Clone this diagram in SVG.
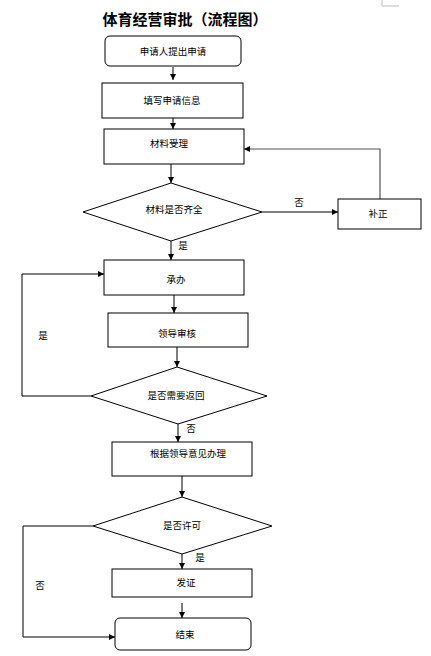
<svg xmlns="http://www.w3.org/2000/svg" width="431" height="656" viewBox="0 0 431 656">
<defs>
<marker id="ah" viewBox="0 0 10 10" refX="10" refY="5" markerWidth="6" markerHeight="6" markerUnits="userSpaceOnUse" orient="auto">
<path d="M0,0 L10,5 L0,10 z" fill="#000"/>
</marker>
<style>
.box{fill:#fff;stroke:#000;stroke-width:1}
.t{font-family:"Noto Sans CJK SC","Liberation Sans",sans-serif;font-size:9.5px;fill:#000;text-anchor:middle;dominant-baseline:central}
.e{fill:none;stroke:#000;stroke-width:1}
.g{fill:none;stroke:#555;stroke-width:1.2}
.lbl{font-family:"Noto Sans CJK SC","Liberation Sans",sans-serif;font-size:9.5px;fill:#000;text-anchor:middle;dominant-baseline:central}
</style>
</defs>
<rect width="431" height="656" fill="#fff"/>
<path d="M382,0 V6 H399" fill="none" stroke="#bbb" stroke-width="1"/>
<text x="185" y="18" font-family="Noto Sans CJK SC,Liberation Sans,sans-serif" font-size="15" font-weight="bold" text-anchor="middle" dominant-baseline="central">体育经营审批（流程图）</text>

<g id="connectors">
<line class="e" x1="173" y1="67" x2="173" y2="80" marker-end="url(#ah)"/>
<line class="e" x1="173" y1="118" x2="173" y2="129" marker-end="url(#ah)"/>
<line class="e" x1="171" y1="164" x2="171" y2="183" marker-end="url(#ah)"/>
<line class="e" x1="262" y1="212" x2="338" y2="212" marker-end="url(#ah)"/>
<path class="g" d="M380,199 V149 H244" marker-end="url(#ah)"/>
<line class="e" x1="171" y1="241" x2="171" y2="260" marker-end="url(#ah)"/>
<line class="e" x1="174" y1="295" x2="174" y2="313" marker-end="url(#ah)"/>
<line class="e" x1="177" y1="347" x2="177" y2="367" marker-end="url(#ah)"/>
<path class="e" d="M91,396 H22 V274 H104" marker-end="url(#ah)"/>
<line class="e" x1="178" y1="424" x2="178" y2="442" marker-end="url(#ah)"/>
<line class="e" x1="182" y1="476" x2="182" y2="497" marker-end="url(#ah)"/>
<line class="e" x1="182" y1="554" x2="182" y2="569" marker-end="url(#ah)"/>
<line class="e" x1="182" y1="603" x2="182" y2="618" marker-end="url(#ah)"/>
<path class="e" d="M93,526 H23 V637 H115" marker-end="url(#ah)"/>
<text class="lbl" x="299" y="202">否</text>
<text class="lbl" x="183" y="245">是</text>
<text class="lbl" x="43" y="335">是</text>
<text class="lbl" x="191" y="428">否</text>
<text class="lbl" x="200" y="557">是</text>
<text class="lbl" x="40" y="585">否</text>
</g>

<g id="n1"><rect class="box" x="105" y="36" width="136" height="30" rx="5"/><text class="t" x="173" y="51">申请人提出申请</text></g>
<g id="n2"><rect class="box" x="102" y="83" width="141" height="35"/><text class="t" x="172" y="100">填写申请信息</text></g>
<g id="n3"><rect class="box" x="104" y="129" width="140" height="35"/><text class="t" x="169" y="143">材料受理</text></g>
<g id="d1"><polygon class="box" points="171,183 262,212 171,241 83,212"/><text class="t" x="174" y="209">材料是否齐全</text></g>
<g id="n4"><rect class="box" x="338" y="199" width="83" height="30"/><text class="t" x="378" y="213">补正</text></g>
<g id="n5"><rect class="box" x="104" y="260" width="140" height="35"/><text class="t" x="176" y="279">承办</text></g>
<g id="n6"><rect class="box" x="108" y="313" width="140" height="34"/><text class="t" x="177" y="333">领导审核</text></g>
<g id="d2"><polygon class="box" points="177,367 267,396 178,424 91,396"/><text class="t" x="176" y="395">是否需要返回</text></g>
<g id="n7"><rect class="box" x="112" y="442" width="140" height="34"/><text class="t" x="188" y="453">根据领导意见办理</text></g>
<g id="d3"><polygon class="box" points="182,497 272,526 182,554 93,526"/><text class="t" x="182" y="525">是否许可</text></g>
<g id="n8"><rect class="box" x="112" y="569" width="140" height="28"/><text class="t" x="186" y="582">发证</text></g>
<g id="n9"><rect class="box" x="115" y="618" width="136" height="32" rx="5"/><text class="t" x="185" y="634">结束</text></g>
</svg>
